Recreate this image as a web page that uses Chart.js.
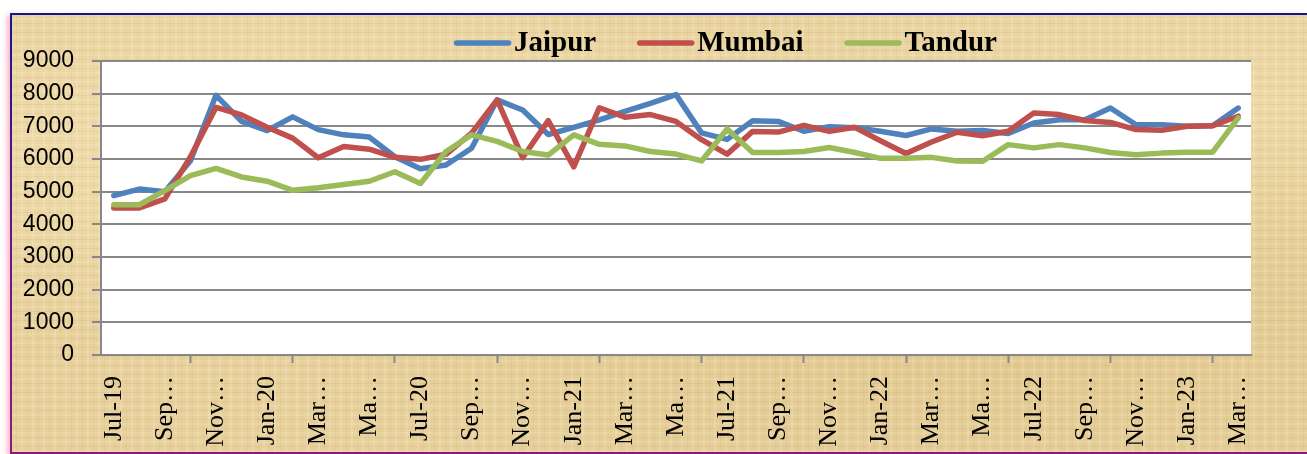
<!DOCTYPE html>
<html>
<head>
<meta charset="utf-8">
<script src="https://cdn.jsdelivr.net/npm/chart.js@4"></script>
<style>
  html, body { margin: 0; padding: 0; background: #ffffff; overflow: hidden; width: 1307px; height: 454px; }
  #frame {
    position: absolute; left: 10px; top: 13px;
    width: 1295px; height: 437px; padding-left: 2px;
    border-top: 2px solid #17168a; border-bottom: 2px solid #8a1a7e;
    box-shadow: -3px 2px 5px rgba(255, 90, 130, 0.45);
    background-color: #e7d09c;
    background-image:
      repeating-linear-gradient(90deg, rgba(255,250,225,0.16) 0 2px, rgba(0,0,0,0) 2px 6px, rgba(150,110,50,0.06) 6px 7px, rgba(0,0,0,0) 7px 11px),
      repeating-linear-gradient(0deg, rgba(255,248,220,0.14) 0 2px, rgba(0,0,0,0) 2px 5px, rgba(140,100,45,0.07) 5px 6px, rgba(0,0,0,0) 6px 9px),
      radial-gradient(ellipse at 20% 30%, rgba(250,235,190,0.5), rgba(0,0,0,0) 45%),
      radial-gradient(ellipse at 75% 70%, rgba(215,185,120,0.35), rgba(0,0,0,0) 50%),
      radial-gradient(ellipse at 95% 20%, rgba(245,228,180,0.4), rgba(0,0,0,0) 40%);
  }
  #frame::before {
    content: ""; position: absolute; left: 0; top: 0; bottom: 0; width: 2px;
    background: linear-gradient(180deg, #17168a, #6a1a8a 60%, #8a1a7e);
  }
  canvas { display: block; }
</style>
</head>
<body>
<div id="frame"><canvas id="c" width="1295" height="437"></canvas></div>
<script>
// ---- data ----
const categories = ['Jul-19','Aug-19','Sep-19','Oct-19','Nov-19','Dec-19','Jan-20','Feb-20','Mar-20','Apr-20','May-20','Jun-20',
  'Jul-20','Aug-20','Sep-20','Oct-20','Nov-20','Dec-20','Jan-21','Feb-21','Mar-21','Apr-21','May-21','Jun-21',
  'Jul-21','Aug-21','Sep-21','Oct-21','Nov-21','Dec-21','Jan-22','Feb-22','Mar-22','Apr-22','May-22','Jun-22',
  'Jul-22','Aug-22','Sep-22','Oct-22','Nov-22','Dec-22','Jan-23','Feb-23','Mar-23'];
const tickLabels = ['Jul-19','Sep…','Nov…','Jan-20','Mar…','Ma…','Jul-20','Sep…','Nov…','Jan-21','Mar…','Ma…',
  'Jul-21','Sep…','Nov…','Jan-22','Mar…','Ma…','Jul-22','Sep…','Nov…','Jan-23','Mar…'];
const yTicks = [0,1000,2000,3000,4000,5000,6000,7000,8000,9000];
const seriesNames = ['Jaipur','Mumbai','Tandur'];
const jaipur = [4880,5080,5000,5950,7950,7150,6870,7290,6900,6740,6670,6070,5700,5815,6330,7810,7500,6750,6970,7200,7460,7700,7970,
  6800,6600,7170,7150,6850,6990,6960,6850,6720,6920,6850,6870,6780,7100,7200,7200,7560,7050,7050,7000,7020,7560];
const mumbai = [4500,4500,4780,6070,7580,7350,6970,6640,6040,6380,6300,6050,5990,6145,6790,7810,6040,7175,5760,7570,7280,7360,7150,
  6590,6150,6845,6825,7030,6845,6970,6560,6170,6520,6820,6710,6850,7410,7360,7180,7120,6900,6880,7000,7020,7310];
const tandur = [4600,4600,5030,5490,5710,5450,5320,5040,5120,5220,5320,5610,5250,6230,6740,6540,6230,6120,6740,6450,6400,6230,6150,
  5940,6920,6200,6200,6230,6350,6200,6020,6020,6050,5940,5930,6440,6340,6440,6340,6200,6130,6180,6210,6210,7260];
const seriesColors = ['#4f81bd','#c0504d','#9bbb59'];

// ---- plugins ----
const plotBg = {
  id: 'plotBg',
  beforeDraw(chart) {
    const a = chart.chartArea, ctx = chart.ctx;
    ctx.save();
    ctx.fillStyle = '#ffffff';
    ctx.fillRect(a.left, a.top, a.right - a.left, a.bottom - a.top);
    ctx.restore();
  }
};
const customLegend = {
  id: 'customLegend',
  afterDraw(chart) {
    const ctx = chart.ctx;
    ctx.save();
    ctx.font = 'bold 29px "Liberation Serif", "Times New Roman", serif';
    ctx.textBaseline = 'alphabetic';
    let x = 442;
    const lineY = 28, textY = 36, sample = 57, gap = 3, spacing = 41;
    chart.data.datasets.forEach(ds => {
      ctx.strokeStyle = ds.borderColor;
      ctx.lineWidth = 5.5;
      ctx.lineCap = 'round';
      ctx.beginPath();
      ctx.moveTo(x + 2.5, lineY);
      ctx.lineTo(x + sample - 2.5, lineY);
      ctx.stroke();
      ctx.fillStyle = '#000000';
      ctx.fillText(ds.label, x + sample + gap, textY);
      x += sample + gap + ctx.measureText(ds.label).width + spacing;
    });
    ctx.restore();
  }
};

const grid = '#888888';
const datasets = [jaipur, mumbai, tandur].map((d, i) => ({
  label: seriesNames[i],
  data: d,
  borderColor: seriesColors[i],
  backgroundColor: seriesColors[i],
  borderWidth: 5.5,
  pointRadius: 0,
  tension: 0,
  fill: false,
  borderJoinStyle: 'round',
  borderCapStyle: 'round',
  order: 3 - i
}));

new Chart(document.getElementById('c'), {
  type: 'line',
  data: { labels: categories, datasets },
  plugins: [plotBg, customLegend],
  options: {
    responsive: false,
    animation: false,
    devicePixelRatio: 1,
    layout: { padding: { left: 0, right: 56, top: 46, bottom: 0 } },
    plugins: { legend: { display: false }, tooltip: { enabled: false } },
    scales: {
      x: {
        type: 'category',
        offset: true,
        afterFit(s) { s.height = 97; },
        grid: {
          offset: true,
          drawOnChartArea: false,
          drawTicks: true,
          tickLength: 8,
          tickWidth: 2,
          tickColor: (c) => (c.index % 2 === 0 ? grid : 'rgba(0,0,0,0)')
        },
        border: { display: true, color: grid, width: 2 },
        ticks: {
          autoSkip: false,
          maxRotation: 90,
          minRotation: 90,
          padding: 13,
          color: '#000000',
          font: { family: '"Liberation Serif", "Times New Roman", serif', size: 26 },
          callback: (v, i) => (i % 2 === 0 ? tickLabels[i / 2] : null)
        }
      },
      y: {
        min: 0,
        max: 9000,
        afterFit(s) { s.width = 89; },
        afterBuildTicks(s) { s.ticks = yTicks.map(v => ({ value: v })); },
        grid: { color: grid, lineWidth: 2, tickLength: 9, drawTicks: true },
        border: { display: true, color: grid, width: 2 },
        ticks: {
          padding: 18,
          color: '#000000',
          font: { family: '"Liberation Sans", Arial, sans-serif', size: 23 },
          callback: (v) => String(v)
        }
      }
    }
  }
});
</script>
</body>
</html>
